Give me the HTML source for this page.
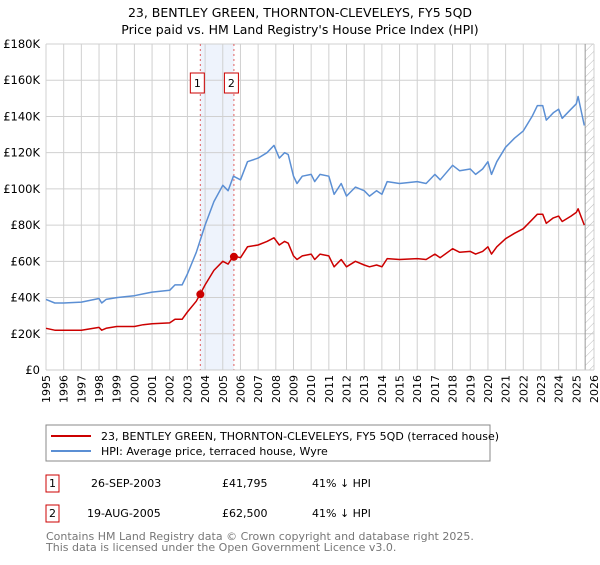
<!DOCTYPE html>
<html><head><meta charset="utf-8"><style>
body{margin:0;background:#fff;font-family:"Liberation Sans","DejaVu Sans",sans-serif;}
svg text{font-family:"DejaVu Sans","Liberation Sans",sans-serif;}
</style></head><body>
<svg id="c" width="600" height="560" xmlns="http://www.w3.org/2000/svg">
<defs><pattern id="hatch" width="6" height="6" patternUnits="userSpaceOnUse" patternTransform="rotate(45)"><line x1="0" y1="0" x2="0" y2="6" stroke="#bbb" stroke-width="1"/></pattern></defs>
<text x="300" y="17" text-anchor="middle" font-size="12.5" fill="#000">23, BENTLEY GREEN, THORNTON-CLEVELEYS, FY5 5QD</text>
<text x="300" y="34" text-anchor="middle" font-size="12.5" fill="#000">Price paid vs. HM Land Registry's House Price Index (HPI)</text>
<g id="grid"></g><g id="marks"></g><g id="axes"></g>
<rect x="46" y="425" width="444" height="36" fill="#fff" stroke="#888"/>
<line x1="51" y1="436" x2="91" y2="436" stroke="#cc0000" stroke-width="2"/>
<text x="101" y="440" font-size="11">23, BENTLEY GREEN, THORNTON-CLEVELEYS, FY5 5QD (terraced house)</text>
<line x1="51" y1="451" x2="91" y2="451" stroke="#5b8fd4" stroke-width="2"/>
<text x="101" y="455" font-size="11">HPI: Average price, terraced house, Wyre</text>
<g font-size="11">
<rect x="46" y="475" width="13" height="17" fill="#fff" stroke="#cc0000"/><text x="52.5" y="487" text-anchor="middle">1</text>
<text x="91" y="487">26-SEP-2003</text><text x="222" y="487">£41,795</text><text x="312" y="487">41% ↓ HPI</text></g>
<g font-size="11">
<rect x="46" y="505" width="13" height="17" fill="#fff" stroke="#cc0000"/><text x="52.5" y="517" text-anchor="middle">2</text>
<text x="87" y="517">19-AUG-2005</text><text x="222" y="517">£62,500</text><text x="312" y="517">41% ↓ HPI</text></g>
<text x="46" y="540" font-size="11" fill="#777">Contains HM Land Registry data © Crown copyright and database right 2025.</text>
<text x="46" y="551" font-size="11" fill="#777">This data is licensed under the Open Government Licence v3.0.</text>
</svg>
<script>
const yearTicks=[1995,1996,1997,1998,1999,2000,2001,2002,2003,2004,2005,2006,2007,2008,2009,2010,2011,2012,2013,2014,2015,2016,2017,2018,2019,2020,2021,2022,2023,2024,2025,2026];
const priceTicks=[0,20,40,60,80,100,120,140,160,180];
const priceLabels=["£0","£20K","£40K","£60K","£80K","£100K","£120K","£140K","£160K","£180K"];
const hpiT=[1995,1995.5,1996,1997,1998,1998.15,1998.4,1999,2000,2000.5,2001,2002,2002.3,2002.7,2003,2003.5,2004,2004.5,2005,2005.3,2005.6,2006,2006.4,2007,2007.5,2007.9,2008.2,2008.5,2008.7,2009,2009.2,2009.5,2010,2010.2,2010.5,2011,2011.3,2011.7,2012,2012.5,2013,2013.3,2013.7,2014,2014.3,2015,2016,2016.5,2017,2017.3,2018,2018.4,2019,2019.3,2019.7,2020,2020.2,2020.5,2021,2021.5,2022,2022.5,2022.8,2023.1,2023.3,2023.7,2024,2024.2,2024.7,2025,2025.1,2025.45];
const hpiV=[39,37,37,37.5,39.5,37,39,40,41,42,43,44,47,47,53,65,80,93,102,99,107,105,115,117,120,124,117,120,119,107,103,107,108,104,108,107,97,103,96,101,99,96,99,97,104,103,104,103,108,105,113,110,111,108,111,115,108,115,123,128,132,140,146,146,138,142,144,139,144,147,151,135];
const redV=[23,22,22,22,23.5,22,23,24,24,25,25.5,26,28,28,32,38,47,55,60,58.5,63,62,68,69,71,73,69,71,70,63,61,63,64,61,64,63,57,61,57,60,58,57,58,57,61.5,61,61.5,61,64,62,67,65,65.5,64,65.5,68,64,68,72.5,75.5,78,83,86,86,81,84,85,82,85,87,89,80];
const saleT=[2003.73,2005.63];
const saleV=[41.795,62.5];
const X0=46,X1=594,Y0=370,Y1=44;
const sx=t=>X0+(t-1995)/(2026-1995)*(X1-X0);
const sy=v=>Y0-v/180*(Y0-Y1);
const NS="http://www.w3.org/2000/svg";
function mk(tag,attrs,parent){const e=document.createElementNS(NS,tag);for(const k in attrs)e.setAttribute(k,attrs[k]);parent.appendChild(e);return e;}
const grid=document.getElementById('grid'),marks=document.getElementById('marks'),axes=document.getElementById('axes');
let sh=mk('rect',{x:sx(saleT[0]),y:Y1,width:sx(saleT[1])-sx(saleT[0]),height:Y0-Y1,fill:'#eef3fc'},grid);


yearTicks.forEach(y=>{mk('line',{x1:sx(y),y1:Y1,x2:sx(y),y2:Y0,stroke:'#d0d0d0','stroke-width':1},grid);
 const t=mk('text',{x:0,y:0,'font-size':11,'text-anchor':'end',transform:`translate(${sx(y)+4},${Y0+5}) rotate(-90)`},axes);t.textContent=y;
 
 });
priceTicks.forEach((p,i)=>{mk('line',{x1:X0,y1:sy(p),x2:X1,y2:sy(p),stroke:'#d0d0d0','stroke-width':1},grid);
 const t=mk('text',{x:X0-6,y:sy(p)+4,'font-size':11.5,'text-anchor':'end'},axes);t.textContent=priceLabels[i];
 
 });
const hx=sx(2025.5);
let hr=mk('rect',{x:hx,y:Y1,width:X1-hx,height:Y0-Y1,fill:'url(#hatch)'},grid);


mk('line',{x1:hx,y1:Y1,x2:hx,y2:Y0,stroke:'#999','stroke-width':1},grid);
saleT.forEach((t,i)=>{mk('line',{x1:sx(t),y1:Y1,x2:sx(t),y2:Y0,stroke:'#e06060','stroke-dasharray':'2,3','stroke-width':1},grid);
 const g=mk('g',{},marks);
 
 
 const bx=sx(t)+(i==0?-3:-2.5);
 mk('rect',{x:bx-7,y:73,width:14,height:20,fill:'#fff',stroke:'#cc0000'},g);
 const tt=mk('text',{x:bx,y:87,'font-size':11,'text-anchor':'middle'},g);tt.textContent=i+1;});
function line(T,V,col,name){const d=T.map((t,i)=>(i?'L':'M')+sx(t).toFixed(1)+','+sy(V[i]).toFixed(1)).join('');
 const p=mk('path',{d:d,fill:'none',stroke:col,'stroke-width':1.5,'stroke-linejoin':'round'},marks);
 
 }
line(hpiT,hpiV,'#5b8fd4','hpi-line');
line(hpiT,redV,'#cc0000','property-line');
saleT.forEach((t,i)=>{const c=mk('circle',{cx:sx(t),cy:sy(saleV[i]),r:4,fill:'#cc0000'},marks);
 
 });
mk('line',{x1:X0,y1:Y0,x2:X1,y2:Y0,stroke:'#ccc'},axes);
</script>
</body></html>
